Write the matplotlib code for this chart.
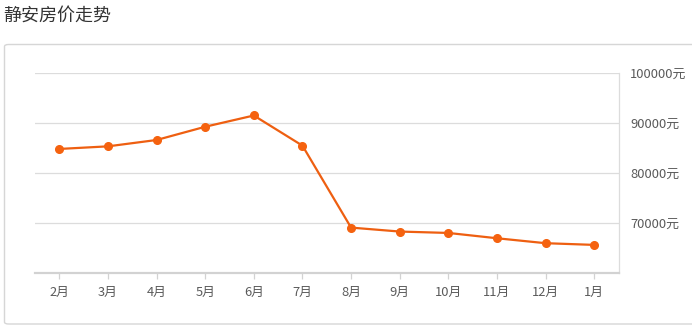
import matplotlib
matplotlib.use('Agg')
import matplotlib.pyplot as plt
from matplotlib.patches import FancyBboxPatch

plt.rcParams['font.family'] = ['Noto Sans CJK SC', 'DejaVu Sans']

# data
months = ['2月', '3月', '4月', '5月', '6月', '7月', '8月', '9月', '10月', '11月', '12月', '1月']
prices = [84870, 85390, 86660, 89310, 91560, 85530, 69140, 68350, 68070, 67010, 66020, 65680]
y_ticks = [70000, 80000, 90000, 100000]
title = '静安房价走势'

W, H = 692, 328
fig = plt.figure(figsize=(W / 100, H / 100), dpi=100)

# outer rounded panel
box = FancyBboxPatch((4.5 / W, 4 / H), 700 / W, 279.5 / H,
                     boxstyle='round,pad=0,rounding_size=0.006',
                     transform=fig.transFigure, fill=False,
                     edgecolor='#d6d6d6', linewidth=1.0)
fig.patches.append(box)

fig.text(3 / W, 1 - 16 / H, title, fontsize=13, color='#333333', va='center', ha='left')

ax = fig.add_axes([35 / W, (H - 273.3) / H, (618.5 - 35) / W, (273.3 - 73.3) / H])
x = list(range(len(months)))
ax.plot(x, prices, color='#ee5f11', lw=1.6, marker='o', markersize=5.5,
        markerfacecolor='#f5620f', markeredgecolor='#f5620f', zorder=3)

ax.set_xlim(-0.5, len(months) - 0.5)
ax.set_ylim(60000, 100000)
ax.set_xticks(x)
ax.set_xticklabels(months)
ax.set_yticks(y_ticks)
ax.set_yticklabels([f'{v}元' for v in y_ticks])
ax.yaxis.tick_right()
ax.grid(axis='y', color='#dcdcdc', lw=0.9)
ax.set_axisbelow(True)

for s in ['left', 'top']:
    ax.spines[s].set_visible(False)
ax.spines['right'].set_color('#dcdcdc')
ax.spines['right'].set_linewidth(0.9)
ax.spines['bottom'].set_color('#d2d2d2')
ax.spines['bottom'].set_linewidth(1.6)

ax.tick_params(axis='x', colors='#d2d2d2', labelcolor='#5a5a5a', labelsize=9.3,
               length=4, width=0.9, pad=5)
ax.tick_params(axis='y', length=0, labelcolor='#5a5a5a', labelsize=9.3, pad=8.5)

fig.savefig('out.png', dpi=100)
